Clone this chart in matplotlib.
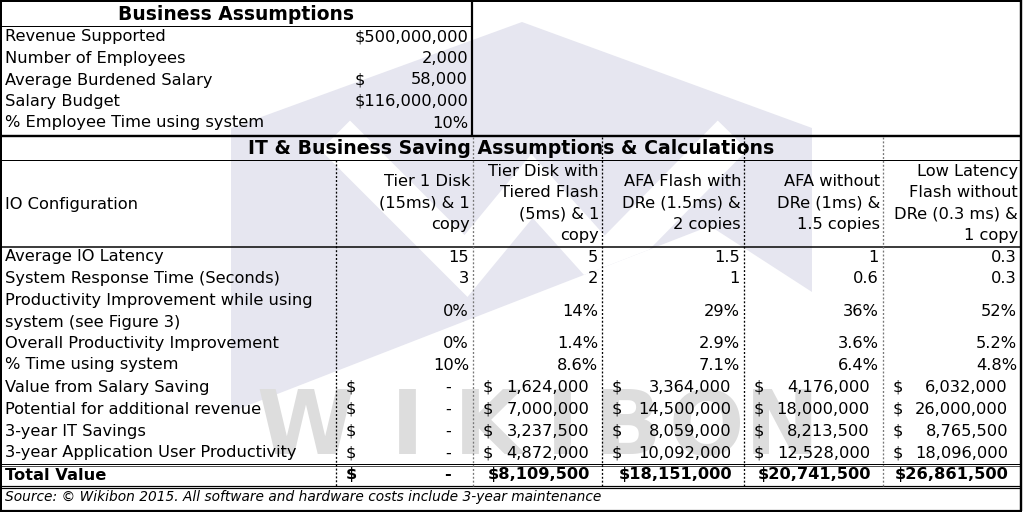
import matplotlib
matplotlib.use("Agg")
import matplotlib.pyplot as plt
from matplotlib.patches import Polygon

# ---------------- data ----------------
biz_labels = ["Revenue Supported", "Number of Employees", "Average Burdened Salary",
              "Salary Budget", "% Employee Time using system"]
biz_values = ["$500,000,000", "2,000", "58,000", "$116,000,000", "10%"]
biz_dollar = [False, False, True, False, False]

config_headers = [
    ["Tier 1 Disk", "(15ms) & 1", "copy"],
    ["Tier Disk with", "Tiered Flash", "(5ms) & 1", "copy"],
    ["AFA Flash with", "DRe (1.5ms) &", "2 copies"],
    ["AFA without", "DRe (1ms) &", "1.5 copies"],
    ["Low Latency", "Flash without", "DRe (0.3 ms) &", "1 copy"],
]

latency = [15, 5, 1.5, 1, 0.3]
response_time = [3, 2, 1, 0.6, 0.3]
prod_improve_pct = [0, 14, 29, 36, 52]
overall_pct = [0, 1.4, 2.9, 3.6, 5.2]
time_pct = [10, 8.6, 7.1, 6.4, 4.8]
salary_saving = [0, 1624000, 3364000, 4176000, 6032000]
add_revenue = [0, 7000000, 14500000, 18000000, 26000000]
it_savings = [0, 3237500, 8059000, 8213500, 8765500]
app_prod = [0, 4872000, 10092000, 12528000, 18096000]
total_value = [0, 8109500, 18151000, 20741500, 26861500]

source_note = "Source: \u00a9 Wikibon 2015. All software and hardware costs include 3-year maintenance"

# ---------------- layout (pixels) ----------------
W, H = 1024, 512
col_edges = [336, 473, 602, 744, 883, 1021]
FS = 11.7
fig = plt.figure(figsize=(W / 100, H / 100), dpi=100)
ax = fig.add_axes([0, 0, 1, 1])
ax.set_xlim(0, W)
ax.set_ylim(H, 0)
ax.axis("off")

# watermark: hexagon logo + letters
lav = "#e6e6f0"
hexagon = Polygon([(231, 128), (522, 22), (812, 128), (812, 292), (710, 226), (231, 412)],
                  closed=True, fc=lav, ec="none", zorder=0)
ax.add_patch(hexagon)
ax.plot([350, 466, 532, 604, 718], [150, 266, 186, 266, 150], color="white",
        lw=30, solid_joinstyle="miter", zorder=0.5, clip_path=hexagon)
for ch, cx in zip("WIKIBON", [305, 407, 488, 562, 628, 706, 782]):
    ax.text(cx, 430, ch, fontsize=64, fontweight="bold", color="#dddddd",
            ha="center", va="center", zorder=0.6)

def txt(x, y, s, ha="left", **kw):
    ax.text(x, y, s, ha=ha, va="center", fontsize=kw.pop("fontsize", FS),
            color="black", zorder=3, **kw)

def hline(y, x0=0, x1=1021, lw=1.0, color="black"):
    ax.plot([x0, x1], [y, y], color=color, lw=lw * 0.72, solid_capstyle="butt", zorder=2)

def vline(x, y0, y1, lw=1.0, color="black", ls="-"):
    ax.plot([x, x], [y0, y1], color=color, lw=lw * 0.72, ls=ls, solid_capstyle="butt", zorder=2)

# business assumptions block
txt(236, 14, "Business Assumptions", ha="center", fontsize=13.5, fontweight="bold")
hline(26, 0, 472)
vline(472, 0, 136, lw=2.2)
for i, (lab, val) in enumerate(zip(biz_labels, biz_values)):
    y = 37 + i * 21.5
    txt(5, y, lab)
    txt(468, y, val, ha="right")
    if biz_dollar[i]:
        txt(355, y, "$")

# section title
hline(135.5, lw=2.4)
txt(511, 148, "IT & Business Saving Assumptions & Calculations", ha="center",
    fontsize=13.6, fontweight="bold")
hline(160)

# column headers
txt(5, 204, "IO Configuration")
for c, lines in enumerate(config_headers):
    n = len(lines)
    y0 = 203.5 - (n - 1) * 21.5 / 2
    for k, ln in enumerate(lines):
        txt(col_edges[c + 1] - 3, y0 + k * 21.5, ln, ha="right")
hline(246.5, lw=1.5)

# data rows
def fmt_num(v):
    return f"{v:g}"

def fmt_pct(v):
    return f"{v:g}%"

plain_rows = [
    ("Average IO Latency", latency, fmt_num, 257),
    ("System Response Time (Seconds)", response_time, fmt_num, 278.5),
    (None, prod_improve_pct, fmt_pct, 311),
    ("Overall Productivity Improvement", overall_pct, fmt_pct, 343.5),
    ("% Time using system", time_pct, fmt_pct, 365),
]
for lab, vals, f, y in plain_rows:
    if lab:
        txt(5, y, lab)
    for c, v in enumerate(vals):
        txt(col_edges[c + 1] - 4, y, f(v), ha="right")
txt(5, 300, "Productivity Improvement while using")
txt(5, 322, "system (see Figure 3)")

money_rows = [
    ("Value from Salary Saving", salary_saving, 387.5),
    ("Potential for additional revenue", add_revenue, 409.5),
    ("3-year IT Savings", it_savings, 431.5),
    ("3-year Application User Productivity", app_prod, 453),
]
for lab, vals, y in money_rows:
    txt(5, y, lab)
    for c, v in enumerate(vals):
        left, right = col_edges[c], col_edges[c + 1]
        txt(left + 10, y, "$")
        if v == 0:
            txt(right - 22, y, "-", ha="right")
        else:
            txt(right - 13, y, f"{v:,.0f}", ha="right")

hline(463.5, lw=1.0)
hline(465.5, lw=1.0, color="#555555")
txt(5, 475, "Total Value", fontweight="bold")
for c, v in enumerate(total_value):
    left, right = col_edges[c], col_edges[c + 1]
    if v == 0:
        txt(left + 10, 475, "$", fontweight="bold")
        txt(right - 22, 475, "-", ha="right", fontweight="bold")
    else:
        txt(right - 12, 475, f"${v:,.0f}", ha="right", fontweight="bold")
hline(485.5, lw=1.2)
hline(488, lw=1.2)

txt(5, 497.5, source_note, fontsize=9.9, fontstyle="italic")

# column separators (dotted)
for x, col in zip(col_edges[:-1], ["black", "#777777", "black", "black", "#777777"]):
    vline(x, 160 if x == 336 else 137, 486, lw=1.3, color=col, ls=(0, (1.5, 1.5)))

# outer border
hline(1, 0, 1022, lw=2)
hline(510.5, 0, 1022, lw=2.2)
vline(1, 0, 511, lw=2)
vline(1021, 0, 511, lw=2.4)

fig.savefig("out.png", dpi=100)
